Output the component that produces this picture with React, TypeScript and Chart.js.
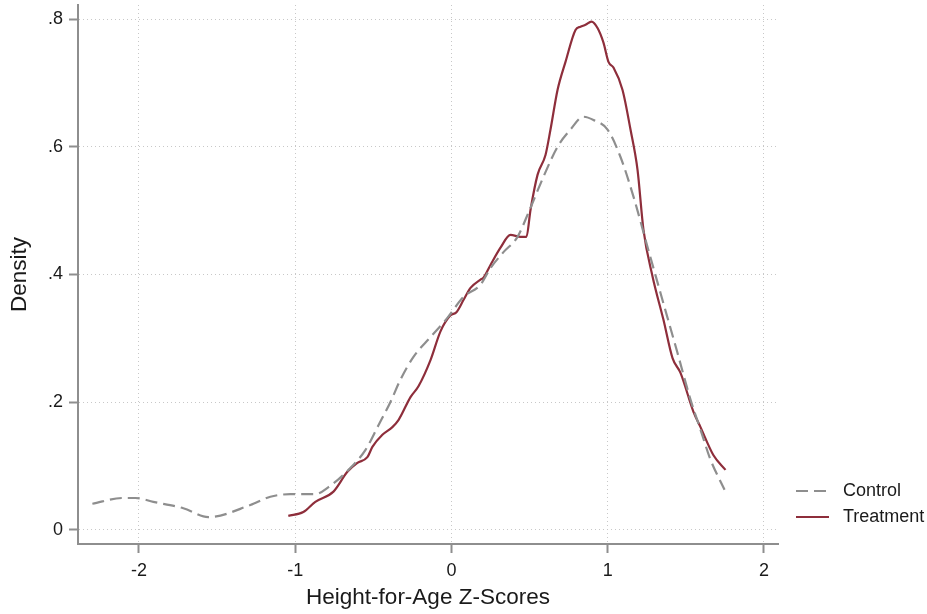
import React, { useEffect, useRef } from "react";
import { Chart, registerables } from "chart.js";

Chart.register(...registerables);

const xTicks = [-2, -1, 0, 1, 2];
const yTicks = [0, 0.2, 0.4, 0.6, 0.8];
const yTickLabels = ["0", ".2", ".4", ".6", ".8"];

const controlX = [-2.298, -2.106, -2.023, -1.908, -1.716, -1.556, -1.287, -1.159, -1.031, -0.871, -0.787, -0.647, -0.551, -0.467, -0.391, -0.327, -0.243, -0.134, -0.026, 0.077, 0.186, 0.25, 0.333, 0.423, 0.493, 0.589, 0.679, 0.762, 0.845, 0.909, 0.999, 1.082, 1.165, 1.255, 1.338, 1.447, 1.53, 1.594, 1.658, 1.748];
const controlY = [0.041, 0.05, 0.05, 0.044, 0.034, 0.02, 0.039, 0.052, 0.056, 0.056, 0.067, 0.097, 0.125, 0.164, 0.2, 0.235, 0.271, 0.302, 0.332, 0.365, 0.384, 0.41, 0.435, 0.459, 0.497, 0.553, 0.6, 0.627, 0.647, 0.642, 0.627, 0.584, 0.522, 0.443, 0.371, 0.277, 0.204, 0.157, 0.11, 0.063];

const treatmentX = [-1.044, -0.948, -0.871, -0.755, -0.666, -0.602, -0.538, -0.506, -0.442, -0.378, -0.339, -0.262, -0.211, -0.134, -0.07, -0.006, 0.032, 0.077, 0.122, 0.186, 0.205, 0.25, 0.314, 0.378, 0.442, 0.48, 0.506, 0.551, 0.602, 0.634, 0.679, 0.73, 0.794, 0.826, 0.858, 0.896, 0.935, 0.973, 1.005, 1.037, 1.095, 1.146, 1.191, 1.229, 1.287, 1.357, 1.415, 1.466, 1.549, 1.594, 1.677, 1.754];
const treatmentY = [0.022, 0.028, 0.044, 0.06, 0.091, 0.105, 0.114, 0.13, 0.149, 0.161, 0.172, 0.208, 0.225, 0.266, 0.311, 0.336, 0.341, 0.36, 0.379, 0.392, 0.395, 0.415, 0.442, 0.462, 0.459, 0.459, 0.501, 0.556, 0.587, 0.627, 0.689, 0.733, 0.783, 0.788, 0.791, 0.796, 0.786, 0.763, 0.733, 0.724, 0.689, 0.627, 0.564, 0.47, 0.397, 0.329, 0.269, 0.246, 0.185, 0.161, 0.117, 0.094];

const CONTROL_COLOR = "#8e8e8e";
const TREAT_COLOR = "#8e2e3b";
const FONT = "'Liberation Sans', Arial, sans-serif";

const legendPlugin = {
  id: "customLegend",
  afterDraw(chart: any) {
    const ctx = chart.ctx;
    const items = chart.data.datasets;
    const x0 = 796;
    const x1 = 829;
    const ys = [491, 517];
    ctx.save();
    items.forEach((ds: any, i: number) => {
      const y = ys[i];
      ctx.beginPath();
      ctx.strokeStyle = ds.borderColor;
      ctx.lineWidth = ds.borderWidth;
      ctx.setLineDash(ds.borderDash || []);
      ctx.moveTo(x0, y);
      ctx.lineTo(x1, y);
      ctx.stroke();
      ctx.setLineDash([]);
      ctx.fillStyle = "#1a1a1a";
      ctx.font = "18px " + FONT;
      ctx.textBaseline = "middle";
      ctx.textAlign = "left";
      ctx.fillText(ds.label, 843, y);
    });
    ctx.restore();
  },
};

export default function App() {
  const ref = useRef<HTMLCanvasElement>(null);
  useEffect(() => {
    if (!ref.current) return;
    const chart = new Chart(ref.current, {
      type: "line",
      data: {
        datasets: [
          {
            label: "Control",
            data: controlX.map((x, i) => ({ x, y: controlY[i] })),
            borderColor: CONTROL_COLOR,
            borderWidth: 2.2,
            borderDash: [12, 6],
            pointRadius: 0,
            fill: false,
            cubicInterpolationMode: "monotone",
          },
          {
            label: "Treatment",
            data: treatmentX.map((x, i) => ({ x, y: treatmentY[i] })),
            borderColor: TREAT_COLOR,
            borderWidth: 2.2,
            pointRadius: 0,
            fill: false,
            cubicInterpolationMode: "monotone",
          },
        ],
      },
      options: {
        animation: false,
        responsive: false,
        maintainAspectRatio: false,
        layout: { padding: { top: 5, right: 149, left: 0, bottom: 0 } },
        plugins: { legend: { display: false }, tooltip: { enabled: false } },
        scales: {
          x: {
            type: "linear",
            min: -2.39,
            max: 2.09,
            afterFit: (s: any) => {
              s.height = 70;
              s.paddingLeft = 0;
              s.paddingRight = 0;
            },
            afterBuildTicks: (s: any) => { s.ticks = xTicks.map((v) => ({ value: v })); },
            ticks: {
              color: "#1a1a1a",
              font: { family: FONT, size: 18 },
              padding: 7,
              maxRotation: 0,
              callback: (v: any) => String(v),
            },
            grid: {
              color: "#c8c8c8",
              lineWidth: 1,
              tickLength: 9,
              tickColor: "#8e8e8e",
              tickWidth: 2,
            },
            border: { color: "#8e8e8e", width: 2, dash: [1, 3] },
            title: {
              display: true,
              text: "Height-for-Age Z-Scores",
              color: "#1a1a1a",
              font: { family: FONT, size: 22.5 },
              padding: { top: 0, bottom: 2.5 },
            },
          },
          y: {
            type: "linear",
            min: -0.022,
            max: 0.822,
            afterFit: (s: any) => {
              s.width = 78;
              s.paddingTop = 0;
              s.paddingBottom = 0;
            },
            afterBuildTicks: (s: any) => { s.ticks = yTicks.map((v) => ({ value: v })); },
            ticks: {
              color: "#1a1a1a",
              font: { family: FONT, size: 18 },
              padding: 6,
              callback: (v: any) => {
                const i = yTicks.findIndex((t) => Math.abs(t - v) < 1e-6);
                return i >= 0 ? yTickLabels[i] : "";
              },
            },
            grid: {
              color: "#c8c8c8",
              lineWidth: 1,
              tickLength: 9,
              tickColor: "#8e8e8e",
              tickWidth: 2,
            },
            border: { color: "#8e8e8e", width: 2, dash: [1, 3] },
            title: {
              display: true,
              text: "Density",
              color: "#1a1a1a",
              font: { family: FONT, size: 22.5 },
              padding: { top: 6.5, bottom: 0 },
            },
          },
        },
      },
      plugins: [legendPlugin],
    } as any);
    return () => chart.destroy();
  }, []);
  return (
    <div style={{ position: "fixed", left: 0, top: 0, width: 927, height: 614, background: "#fff" }}>
      <canvas ref={ref} width={927} height={614} style={{ width: 927, height: 614, display: "block" }} />
    </div>
  );
}
